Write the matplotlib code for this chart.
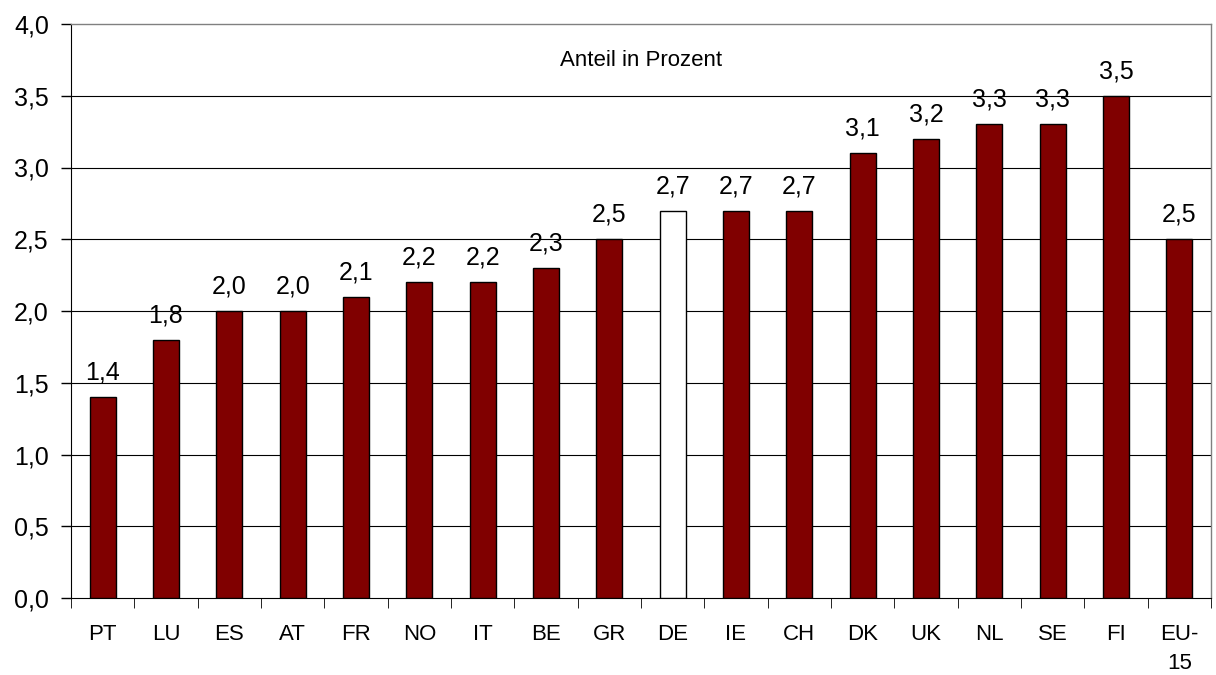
import matplotlib
matplotlib.use("Agg")
import matplotlib.pyplot as plt
import numpy as np

plt.rcParams['font.family'] = ['Liberation Sans', 'DejaVu Sans']

categories = ["PT", "LU", "ES", "AT", "FR", "NO", "IT", "BE", "GR", "DE",
              "IE", "CH", "DK", "UK", "NL", "SE", "FI", "EU-\n15"]
values = [1.4, 1.8, 2.0, 2.0, 2.1, 2.2, 2.2, 2.3, 2.5, 2.7,
          2.7, 2.7, 3.1, 3.2, 3.3, 3.3, 3.5, 2.5]
highlight = "DE"
yticks = [0.0, 0.5, 1.0, 1.5, 2.0, 2.5, 3.0, 3.5, 4.0]
title = "Anteil in Prozent"

fig = plt.figure(figsize=(12.16, 6.75), dpi=100)
ax = fig.add_axes([71/1216, 1 - 598/675, (1211-71)/1216, (598-24)/675])

x = np.arange(len(categories))
colors = ["white" if c == highlight else "#800000" for c in categories]
ax.bar(x, values, width=0.41, color=colors, edgecolor="black", linewidth=1.0, zorder=3)

for xi, v in zip(x, values):
    ax.annotate(f"{v:.1f}".replace(".", ","), (xi, v), xytext=(0, 9),
                textcoords="offset points", ha="center", va="bottom", fontsize=18)

ax.set_xlim(-0.5, len(categories) - 0.5)
ax.set_ylim(0, 4.0)
ax.set_yticks(yticks)
ax.set_yticklabels([f"{t:.1f}".replace(".", ",") for t in yticks], fontsize=18)
ax.set_xticks(x)
ax.set_xticklabels(categories, fontsize=16, va="top", linespacing=1.45)
ax.tick_params(axis="x", length=0, pad=19)
ax.set_xticks(np.arange(len(categories) + 1) - 0.5, minor=True)
ax.tick_params(axis="x", which="minor", length=7, direction="out", color="black")
ax.tick_params(axis="y", length=7, direction="out", width=1, pad=9)

for t in yticks[1:-1]:
    ax.axhline(t, color="black", linewidth=0.8, zorder=1)

for s in ["top", "right"]:
    ax.spines[s].set_color("#808080")
    ax.spines[s].set_linewidth(1.0)
ax.spines["left"].set_color("black")
ax.spines["bottom"].set_color("black")

ax.text(0.5, 0.937, title, transform=ax.transAxes, ha="center", va="center", fontsize=16)

fig.savefig("out.png", dpi=100)
